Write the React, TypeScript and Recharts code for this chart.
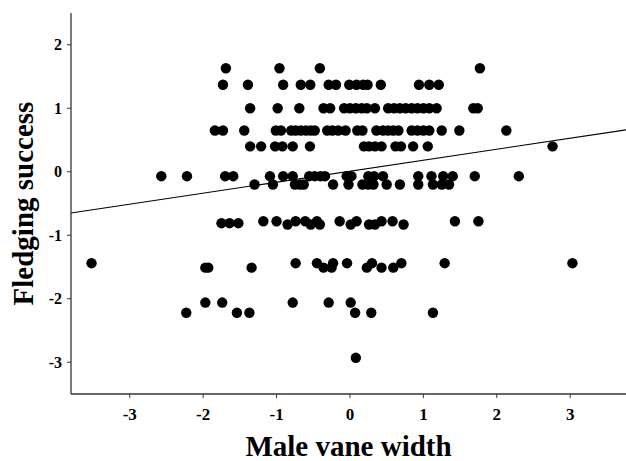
import React from "react";
import {
  ScatterChart,
  Scatter,
  XAxis,
  YAxis,
  ReferenceLine,
  Label,
} from "recharts";

// Fledging success levels (y) with the male vane width values (x) observed at each
const row163 = [-1.69, -0.96, -0.41, 1.77];
const row137 = [-1.73, -1.39, -0.91, -0.67, -0.54, -0.29, -0.19, -0.01, 0.09, 0.18, 0.24, 0.42, 0.94, 1.08, 1.21];
const row100 = [-1.36, -0.985, -0.69, -0.36, -0.27, -0.08, 0.0, 0.08, 0.16, 0.23, 0.34, 0.52, 0.6, 0.68, 0.76, 0.84, 0.92, 1.0, 1.08, 1.18, 1.68, 1.74];
const row065 = [-1.84, -1.73, -1.44, -1.01, -0.94, -0.8, -0.74, -0.67, -0.6, -0.535, -0.48, -0.31, -0.24, -0.16, -0.06, 0.1, 0.17, 0.36, 0.45, 0.52, 0.59, 0.66, 0.84, 0.92, 1.0, 1.08, 1.25, 1.49, 2.13];
const row040 = [-1.36, -1.21, -1.02, -0.92, -0.78, -0.545, 0.19, 0.26, 0.34, 0.43, 0.62, 0.695, 0.86, 1.06, 2.76];
const rowM007 = [-2.57, -2.22, -1.7, -1.59, -1.09, -0.91, -0.78, -0.555, -0.48, -0.4, -0.34, -0.045, 0.02, 0.25, 0.33, 0.45, 0.93, 1.11, 1.27, 1.4, 1.7, 2.3];
const rowM020 = [-1.3, -1.05, -0.75, -0.68, -0.63, -0.23, -0.02, 0.17, 0.25, 0.32, 0.5, 0.68, 0.93, 1.13, 1.25, 1.35];
const rowM078 = [-1.18, -1.0, -0.74, -0.61, -0.45, -0.14, 0.09, 0.43, 0.58, 1.43, 1.75];
const rowM081 = [-1.75, -1.64, -1.52];
const rowM083 = [-0.85, -0.535, -0.41, 0.01, 0.26, 0.34, 0.73];
const rowM144 = [-3.52, -0.74, -0.45, -0.23, -0.04, 0.3, 0.7, 1.29, 3.03];
const rowM151 = [-1.97, -1.93, -1.34, -0.36, -0.25, 0.23, 0.43, 0.59];
const rowM206 = [-1.97, -1.74, -0.78, -0.29, 0.01];
const rowM222 = [-2.23, -1.54, -1.37, 0.07, 0.29, 1.13];
const rowM293 = [0.08];

const rows: [number, number[]][] = [
  [1.63, row163],
  [1.37, row137],
  [1.0, row100],
  [0.65, row065],
  [0.4, row040],
  [-0.07, rowM007],
  [-0.2, rowM020],
  [-0.78, rowM078],
  [-0.81, rowM081],
  [-0.83, rowM083],
  [-1.44, rowM144],
  [-1.51, rowM151],
  [-2.06, rowM206],
  [-2.22, rowM222],
  [-2.93, rowM293],
];

const xTicks = [-3, -2, -1, 0, 1, 2, 3];
const yTicks = [-3, -2, -1, 0, 1, 2];
const xDomain = [-3.8, 3.76];
const yDomain = [-3.5, 2.5];

// regression line end points
const fitX = [-3.8, 3.76];
const fitY = [-0.65, 0.66];

const points = rows.flatMap(([y, xs]) => xs.map((x) => ({ x, y })));

const FONT = '"Liberation Serif", "Times New Roman", serif';

const Dot = (props: any) => (
  <circle cx={props.cx} cy={props.cy} r={5.2} fill="#000" />
);

export default function App() {
  return (
    <div style={{ position: "absolute", left: 0, top: 0, background: "#fff" }}>
      <ScatterChart
        width={626}
        height={461}
        margin={{ top: 13, right: 0, bottom: 0, left: 0 }}
      >
        <XAxis
          type="number"
          dataKey="x"
          domain={xDomain}
          ticks={xTicks}
          allowDataOverflow
          height={67}
          axisLine={{ stroke: "#333", strokeWidth: 1.3 }}
          tickLine={{ stroke: "#333" }}
          tickSize={4}
          tick={{ fill: "#000", fontFamily: FONT, fontWeight: 700, fontSize: 17 }}
          tickMargin={10}
        >
          <Label
            value="Male vane width"
            position="insideBottom"
            offset={5}
            style={{ fill: "#000", fontFamily: FONT, fontWeight: 700, fontSize: 29 }}
          />
        </XAxis>
        <YAxis
          type="number"
          dataKey="y"
          domain={yDomain}
          ticks={yTicks}
          allowDataOverflow
          width={71}
          axisLine={{ stroke: "#333", strokeWidth: 1.3 }}
          tickLine={{ stroke: "#333" }}
          tickSize={4}
          tick={{ fill: "#000", fontFamily: FONT, fontWeight: 700, fontSize: 16 }}
          tickMargin={5}
        >
          <Label
            value="Fledging success"
            angle={-90}
            position="insideLeft"
            offset={23}
            style={{
              fill: "#000",
              fontFamily: FONT,
              fontWeight: 700,
              fontSize: 29,
              textAnchor: "middle",
            }}
          />
        </YAxis>
        <ReferenceLine
          segment={[
            { x: fitX[0], y: fitY[0] },
            { x: fitX[1], y: fitY[1] },
          ]}
          stroke="#000"
          strokeWidth={1.1}
          ifOverflow="visible"
        />
        <Scatter data={points} shape={Dot} isAnimationActive={false} />
      </ScatterChart>
    </div>
  );
}
